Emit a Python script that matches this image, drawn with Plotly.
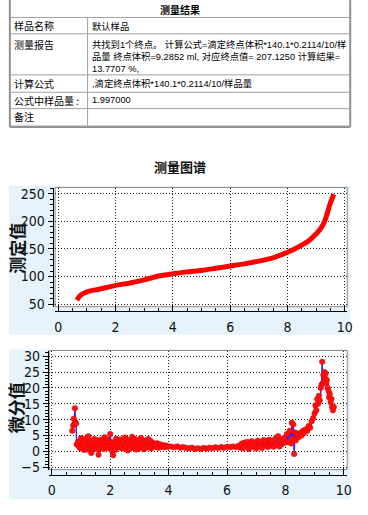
import plotly.graph_objects as go

W, H = 368, 515

# ---------------- data ----------------
table_title = "测量结果"
row_labels = ["样品名称", "测量报告", "计算公式", "公式中样品量 :", "备注"]
row_values = [
    ["默认样品"],
    ["共找到1个终点。 计算公式=滴定终点体积*140.1*0.2114/10/样",
     "品量 终点体积=9.2852 ml, 对应终点值= 207.1250 计算结果=",
     "13.7707 %,"],
    [",滴定终点体积*140.1*0.2114/10/样品量"],
    ["1.997000"],
    [""],
]
chart_title = "测量图谱"
top_axis_title = "测定值"
bottom_axis_title = "微分值"

x_ticks = [0, 2, 4, 6, 8, 10]
top_y_ticks = [50, 100, 150, 200, 250]
bottom_y_ticks = [-5, 0, 5, 10, 15, 20, 25, 30]

curve_volume = [0.65, 0.72, 0.80, 0.90, 1.00, 1.25, 1.50, 1.75, 2.00, 2.50,
                3.00, 3.50, 4.00, 4.50, 5.00, 5.50, 6.00, 6.50, 7.00, 7.50,
                8.00, 8.25, 8.50, 8.75, 9.00, 9.15, 9.30, 9.40, 9.50, 9.62]
curve_value = [57, 63, 67, 70, 72.5, 75.5, 78, 81, 84, 88.5,
               94, 101, 105, 108.5, 111, 115, 119, 123, 128, 134,
               144, 150, 157, 165, 177, 186, 200, 216, 233, 249]

diff_volume = [
    0.700, 0.730, 0.750, 0.770, 0.790, 0.810, 0.830, 0.850,
    0.900, 0.925, 0.950, 0.975, 1.000, 1.025, 1.050, 1.075, 1.100, 1.125,
    1.150, 1.175, 1.200, 1.225, 1.250, 1.275, 1.300, 1.325, 1.350, 1.375,
    1.400, 1.425, 1.450, 1.475, 1.500, 1.525, 1.550, 1.575, 1.600, 1.625,
    1.650, 1.675, 1.700, 1.725, 1.750, 1.775, 1.800, 1.825, 1.850, 1.875,
    1.900, 1.925, 1.950, 1.975, 2.000, 2.025, 2.050, 2.075, 2.100, 2.125,
    2.150, 2.175, 2.200, 2.225, 2.250, 2.275, 2.300, 2.325, 2.350, 2.375,
    2.400, 2.425, 2.450, 2.475, 2.500, 2.525, 2.550, 2.575, 2.600, 2.625,
    2.650, 2.675, 2.700, 2.725, 2.750, 2.775, 2.800, 2.825, 2.850, 2.875,
    2.900, 2.925, 2.950, 2.975, 3.000, 3.025, 3.050, 3.075, 3.100, 3.125,
    3.150, 3.175, 3.200, 3.225, 3.250, 3.275, 3.300, 3.325, 3.350, 3.375,
    3.400, 3.425, 3.450, 3.475, 3.500,
    3.55, 3.60, 3.65, 3.70, 3.75, 3.80, 3.85, 3.90, 3.95, 4.00,
    4.10, 4.20, 4.30, 4.40, 4.50, 4.60, 4.70, 4.80, 4.90, 5.00,
    5.10, 5.20, 5.30, 5.40, 5.50, 5.60, 5.70, 5.80, 5.90, 6.00,
    6.10, 6.20, 6.30, 6.40,
    6.45, 6.50, 6.55, 6.60, 6.65, 6.70, 6.75, 6.80, 6.85, 6.90,
    6.95, 7.00, 7.05, 7.10, 7.15, 7.20, 7.25, 7.30, 7.35, 7.40,
    7.45, 7.50, 7.55, 7.60, 7.65, 7.70, 7.75, 7.80, 7.85, 7.90,
    7.95, 8.00,
    8.05, 8.10, 8.15, 8.20, 8.22, 8.25, 8.27, 8.30, 8.33, 8.36, 8.40, 8.45,
    8.50, 8.55, 8.60, 8.65, 8.70, 8.75, 8.80, 8.85, 8.90, 8.95, 9.00,
    9.03, 9.06, 9.09, 9.12, 9.15, 9.18, 9.21, 9.24,
    9.26, 9.28, 9.30, 9.32, 9.34, 9.36, 9.38, 9.40, 9.42,
    9.45, 9.48, 9.50, 9.52, 9.55, 9.58, 9.60, 9.63, 9.66,
]
diff_value = [
    6.5, 8.2, 10.3, 8.6, 13.6, 9.2, 8.8, 2.2,
    3.0, 1.8, 1.2, 3.4, 4.2, 0.9, 2.0, 2.9, 0.5, 1.7,
    3.6, 4.1, 2.4, 0.6, 4.8, 2.6, 1.0, 3.3, -0.5, 1.4,
    2.2, 0.7, 3.9, 2.5, 1.6, 3.6, 0.8, 1.9, -1.0, 0.9,
    2.8, 3.7, 1.3, 2.1, 3.2, 0.8, 4.5, 2.6, 1.8, 3.9,
    3.5, 1.1, 2.0, 3.0, 5.5, 1.8, 0.4, 2.9, -1.2, 1.6,
    2.6, 0.5, 4.0, 2.7, 1.5, 3.5, 2.4, 1.3, 3.8, 2.3,
    1.0, 3.6, 2.9, 0.9, 4.4, 2.5, 1.7, 3.8, 0.3, 1.6,
    3.1, 0.8, 2.2, 3.3, 4.6, 2.0, 1.2, 4.0, 2.7, 1.3,
    0.6, 2.4, 3.6, 0.9, 2.0, 3.1, 4.2, 2.6, 1.4, 3.5,
    0.7, 2.2, 3.3, 1.2, 2.1, 3.0, 3.9, 2.4, 1.5, 3.4,
    0.9, 1.7, 2.8, 2.3, 2.0,
    1.5, 2.6, 1.2, 2.3, 1.4, 2.0, 1.3, 1.9, 1.5, 1.6,
    1.5, 1.3, 1.6, 1.2, 1.4, 1.1, 1.0, 1.2, 0.8, 1.0,
    0.8, 1.1, 0.9, 1.2, 1.0, 1.3, 1.1, 1.4, 1.2, 1.5,
    1.3, 1.6, 1.4, 1.8,
    1.2, 2.4, 1.0, 2.8, 1.9, 3.0, 0.8, 2.2, 3.2, 1.5,
    2.6, 0.9, 3.4, 1.6, 2.9, 1.1, 3.6, 2.0, 3.3, 1.4,
    3.7, 1.9, 3.1, 1.5, 3.9, 2.2, 4.8, 1.6, 3.5, 2.4,
    4.2, 2.8,
    5.5, 3.0, 6.5, 2.5, 9.0, 4.0, 8.5, -0.8, 6.0, 3.5, 5.5, 4.5,
    5.8, 5.0, 6.5, 5.8, 7.0, 6.5, 8.0, 7.5, 9.5, 10.5, 12.0,
    14.5, 13.0, 16.5, 15.0, 17.5, 16.0, 20.0, 21.0,
    28.2, 21.5, 24.0, 22.0, 25.0, 23.0, 24.5, 21.5, 22.5,
    20.0, 19.0, 17.0, 18.0, 15.5, 16.5, 14.0, 13.0, 14.0,
]
assert len(diff_volume) == len(diff_value)
assert len(curve_volume) == len(curve_value)


# ---------------- helpers (pixel -> paper) ----------------
def px(x):
    return x / W


def py(y):
    return 1 - y / H


TABLE_FONT = "Liberation Sans, Noto Sans CJK SC, sans-serif"
CJK_FONT = "Noto Sans CJK SC, sans-serif"
TICK_FONT = "Liberation Sans Narrow, Arial Narrow, DejaVu Sans Condensed, Liberation Sans, sans-serif"
PANEL_BG = "#e6f3fb"
GRID = "#222222"

fig = go.Figure()

fig.add_trace(go.Scatter(
    x=curve_volume, y=curve_value, mode="lines",
    line=dict(color="#ff0000", width=5, shape="spline", smoothing=0.6),
    xaxis="x", yaxis="y", showlegend=False, hoverinfo="skip"))

fig.add_trace(go.Scatter(
    x=diff_volume, y=diff_value, mode="lines+markers",
    line=dict(color="#2a2aff", width=1.5),
    marker=dict(color="#ff1010", size=5.5, line=dict(color="#e00000", width=0.5)),
    xaxis="x2", yaxis="y2", showlegend=False, hoverinfo="skip"))

shapes = []
annotations = []

# ---------------- table ----------------
T_L, T_R, T_BOT = 9, 355, 127
row_edges = [15.7, 32.3, 74.0, 91.7, 108.3, 126.0]
COL_X = 88
shapes.append(dict(type="rect", xref="paper", yref="paper",
                   x0=px(T_L), x1=px(T_R), y0=py(T_BOT), y1=1,
                   line=dict(width=0), fillcolor="white", layer="below"))
for (xa, ya, xb, yb) in [(T_L, -2, T_L, T_BOT), (T_R, -2, T_R, T_BOT), (T_L, T_BOT, T_R, T_BOT)]:
    shapes.append(dict(type="line", xref="paper", yref="paper",
                       x0=px(xa), x1=px(xb), y0=py(ya), y1=py(yb),
                       line=dict(color="#8f8f8f", width=2)))
for e in row_edges:
    shapes.append(dict(type="line", xref="paper", yref="paper",
                       x0=px(T_L), x1=px(T_R), y0=py(e), y1=py(e),
                       line=dict(color="#a0a0a0", width=1)))
shapes.append(dict(type="line", xref="paper", yref="paper",
                   x0=px(COL_X), x1=px(COL_X), y0=py(row_edges[0]), y1=py(row_edges[-1]),
                   line=dict(color="#a0a0a0", width=1)))

annotations.append(dict(text="<b>" + table_title + "</b>", x=px(182), y=py(7.5),
                        xref="paper", yref="paper", showarrow=False,
                        xanchor="center", yanchor="middle", borderpad=0,
                        font=dict(family=CJK_FONT, size=10, color="#000")))
label_y = [24.3, 42.7, 82.7, 100.0, 116.7]
for lab, vals, ly in zip(row_labels, row_values, label_y):
    annotations.append(dict(text=lab, x=px(12), y=py(ly), xref="paper", yref="paper",
                            showarrow=False, xanchor="left", yanchor="middle",
                            align="left", borderpad=0,
                            font=dict(family=CJK_FONT, size=10, color="#000")))
    text = "<br>".join(v for v in vals if v)
    if not text:
        continue
    annotations.append(dict(text=text, x=px(91), y=py(ly - 6.2), xref="paper", yref="paper",
                            showarrow=False, xanchor="left", yanchor="top",
                            align="left", borderpad=0,
                            font=dict(family=TABLE_FONT, size=9.3, color="#000")))

# ---------------- chart title ----------------
annotations.append(dict(text="<b>" + chart_title + "</b>", x=px(182), y=py(167.5),
                        xref="paper", yref="paper", showarrow=False,
                        xanchor="center", yanchor="middle", borderpad=0,
                        font=dict(family=CJK_FONT, size=13, color="#111")))

# ---------------- panels ----------------
panels = [
    dict(bg=(8, 355, 187, 338), frame=(55, 352, 188.5, 309.5)),
    dict(bg=(8, 355, 353, 505), frame=(49, 352, 354, 475)),
]
for p in panels:
    x0, x1, y0, y1 = p["bg"]
    shapes.append(dict(type="rect", xref="paper", yref="paper",
                       x0=px(x0), x1=px(x1), y0=py(y1), y1=py(y0),
                       line=dict(width=0), fillcolor=PANEL_BG, layer="below"))
    x0, x1, y0, y1 = p["frame"]
    shapes.append(dict(type="rect", xref="paper", yref="paper",
                       x0=px(x0), x1=px(x1), y0=py(y1), y1=py(y0),
                       line=dict(color="#8c8c8c", width=1), fillcolor="white", layer="below"))

annotations.append(dict(text="<b>" + top_axis_title + "</b>", x=px(15), y=py(250),
                        xref="paper", yref="paper", showarrow=False, textangle=-90,
                        xanchor="center", yanchor="middle", borderpad=0,
                        font=dict(family=CJK_FONT, size=17, color="#111")))
annotations.append(dict(text="<b>" + bottom_axis_title + "</b>", x=px(15), y=py(412),
                        xref="paper", yref="paper", showarrow=False, textangle=-90,
                        xanchor="center", yanchor="middle", borderpad=0,
                        font=dict(family=CJK_FONT, size=17, color="#111")))

tick_font = dict(family=TICK_FONT, size=14, color="#111")


def xaxis_cfg(frame, rng, line_y):
    return dict(domain=[px(frame[0]), px(frame[1])], range=rng, anchor="free",
                position=py(line_y), tickmode="array", tickvals=x_ticks,
                ticks="inside", ticklen=6, tickcolor="#000", showline=True,
                linecolor="#000", linewidth=1, showgrid=True, gridcolor=GRID,
                griddash="1px,2px", gridwidth=1, zeroline=False,
                tickfont=tick_font, ticklabelstandoff=3,
                minor=dict(dtick=0.5, tick0=0, ticks="inside", ticklen=3,
                           tickcolor="#000", showgrid=False))


def yaxis_cfg(frame, rng, line_x, tickvals, minor_dtick):
    return dict(domain=[py(frame[3]), py(frame[2])], range=rng, anchor="free",
                position=px(line_x), tickmode="array", tickvals=tickvals,
                ticks="outside", ticklen=5, tickcolor="#000", showline=True,
                linecolor="#000", linewidth=1, showgrid=True, gridcolor=GRID,
                griddash="1px,2px", gridwidth=1, zeroline=False,
                tickfont=tick_font,
                minor=dict(dtick=minor_dtick, ticks="outside", ticklen=3,
                           tickcolor="#000", showgrid=False))


fig.update_layout(
    width=W, height=H, autosize=False,
    margin=dict(l=0, r=0, t=0, b=0),
    paper_bgcolor="white", plot_bgcolor="rgba(0,0,0,0)",
    xaxis=xaxis_cfg(panels[0]["frame"], [-0.113, 10.09], 314),
    yaxis=yaxis_cfg(panels[0]["frame"], [45.5, 261], 52.5, top_y_ticks, 10),
    xaxis2=xaxis_cfg(panels[1]["frame"], [-0.091, 10.12], 480),
    yaxis2=yaxis_cfg(panels[1]["frame"], [-5.71, 31.77], 47.5, bottom_y_ticks, 1),
    shapes=shapes, annotations=annotations,
)

fig.write_html(
    "out.html",
    config=dict(displayModeBar=False),
    post_script="document.body.style.margin='0';document.body.style.overflow='hidden';",
)
